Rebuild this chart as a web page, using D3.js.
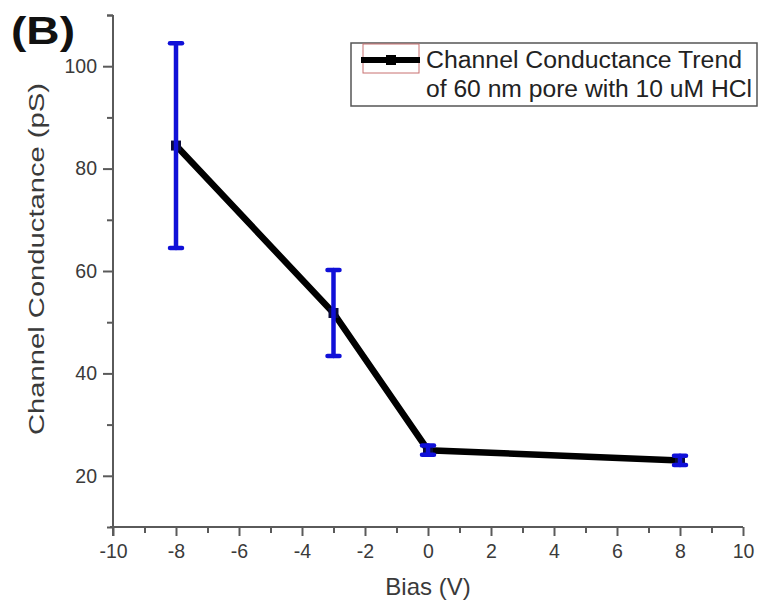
<!DOCTYPE html>
<html>
<head>
<meta charset="utf-8">
<script src="https://cdn.jsdelivr.net/npm/d3@7"></script>
<style>
  html, body { margin: 0; padding: 0; background: #fff; }
  svg { display: block; font-family: "Liberation Sans", Arial, sans-serif; }
</style>
</head>
<body>
<svg id="chart" width="760" height="606"></svg>
<script>
// Channel conductance versus bias voltage
const bias = [-8, -3, 0, 8];
const conductance = [84.5, 51.8, 25.0, 23.0];
const errorPS = [20.0, 8.4, 0.9, 0.9];

const xTicks = [-10, -8, -6, -4, -2, 0, 2, 4, 6, 8, 10];
const yTicks = [20, 40, 60, 80, 100];
const legendLines = ["Channel Conductance Trend", "of 60 nm pore with 10 uM HCl"];

const svg = d3.select("#chart");
const axisColor = "#5a5a5a";
const textColor = "#3a3a3a";

const x = d3.scaleLinear().domain([-10, 10]).range([113, 743]);
const y = d3.scaleLinear().domain([10, 110]).range([527, 15]);

// Minor ticks
const xMinor = d3.range(-10, 10.01, 1).filter(v => !xTicks.includes(v));
const yMinor = d3.range(10, 110.01, 10).filter(v => !yTicks.includes(v));

// X axis
const gx = svg.append("g").attr("transform", `translate(0,${y(10)})`);
gx.call(d3.axisBottom(x).tickValues(xTicks).tickSize(9).tickPadding(8).tickFormat(d => String(d)));
gx.append("g").call(d3.axisBottom(x).tickValues(xMinor).tickSize(6).tickFormat(""));
gx.selectAll(".domain").remove();
gx.append("line").attr("x1", 110).attr("x2", x(10)).attr("y1", 0).attr("y2", 0)
  .attr("stroke", axisColor).attr("stroke-width", 2);

// Y axis
const gy = svg.append("g").attr("transform", `translate(${x(-10)},0)`);
gy.call(d3.axisLeft(y).tickValues(yTicks).tickSize(10).tickPadding(6).tickFormat(d => String(d)));
gy.append("g").call(d3.axisLeft(y).tickValues(yMinor.concat([110])).tickSize(6).tickFormat(""));
gy.selectAll(".domain").remove();
gy.append("line").attr("x1", 0).attr("x2", 0).attr("y1", y(110)).attr("y2", y(10) + 9)
  .attr("stroke", axisColor).attr("stroke-width", 2);

svg.selectAll(".tick line").attr("stroke", axisColor).attr("stroke-width", 2);
svg.selectAll(".tick text").attr("fill", textColor).style("font-size", "19.5px")
  .style("font-family", "'Liberation Sans', Arial, sans-serif");

// Axis titles
svg.append("text").attr("x", x(0)).attr("y", 595).attr("text-anchor", "middle")
  .attr("fill", textColor).style("font-size", "24px").text("Bias (V)");
svg.append("text").attr("transform", `translate(44,${(y(110) + y(10)) / 2 - 12}) rotate(-90)`)
  .attr("text-anchor", "middle").attr("fill", textColor).style("font-size", "22px")
  .attr("textLength", 352).attr("lengthAdjust", "spacingAndGlyphs")
  .text("Channel Conductance (pS)");

// Panel label
svg.append("text").attr("x", 11).attr("y", 44).attr("fill", "#111")
  .style("font-size", "38px").style("font-weight", "bold")
  .attr("textLength", 64).attr("lengthAdjust", "spacingAndGlyphs").text("(B)");

// Trend line with square markers
const pts = bias.map((b, i) => ({ b, c: conductance[i], e: errorPS[i] }));
svg.append("path").datum(pts)
  .attr("d", d3.line().x(d => x(d.b)).y(d => y(d.c)))
  .attr("fill", "none").attr("stroke", "#000").attr("stroke-width", 6.5)
  .attr("stroke-linejoin", "miter");
svg.selectAll(".marker").data(pts).join("rect").attr("class", "marker")
  .attr("x", d => x(d.b) - 5).attr("y", d => y(d.c) - 5)
  .attr("width", 10).attr("height", 10).attr("fill", "#0b0b3a");

// Error bars
const eb = svg.selectAll(".err").data(pts).join("g").attr("class", "err")
  .attr("stroke", "#1010d8").attr("stroke-width", 4.5).attr("stroke-linecap", "round");
eb.append("line").attr("x1", d => x(d.b)).attr("x2", d => x(d.b))
  .attr("y1", d => y(d.c + d.e)).attr("y2", d => y(d.c - d.e));
eb.append("line").attr("x1", d => x(d.b) - 6).attr("x2", d => x(d.b) + 6)
  .attr("y1", d => y(d.c + d.e)).attr("y2", d => y(d.c + d.e));
eb.append("line").attr("x1", d => x(d.b) - 6).attr("x2", d => x(d.b) + 6)
  .attr("y1", d => y(d.c - d.e)).attr("y2", d => y(d.c - d.e));

// Legend
const lg = svg.append("g");
lg.append("rect").attr("x", 351).attr("y", 43).attr("width", 406).attr("height", 63)
  .attr("fill", "#fff").attr("stroke", "#555").attr("stroke-width", 1.5);
lg.append("rect").attr("x", 363).attr("y", 44).attr("width", 56).attr("height", 29)
  .attr("fill", "none").attr("stroke", "#c87070").attr("stroke-width", 1);
lg.append("line").attr("x1", 361).attr("x2", 420).attr("y1", 60).attr("y2", 60)
  .attr("stroke", "#000").attr("stroke-width", 6);
lg.append("rect").attr("x", 386).attr("y", 55).attr("width", 10).attr("height", 10).attr("fill", "#000");
const legendWidths = [316, 326];
lg.selectAll(".lt").data(legendLines).join("text").attr("class", "lt")
  .attr("x", 426).attr("y", (d, i) => 68 + i * 29)
  .attr("fill", "#222").style("font-size", "23px")
  .attr("textLength", (d, i) => legendWidths[i]).attr("lengthAdjust", "spacingAndGlyphs")
  .text(d => d);
</script>
</body>
</html>
